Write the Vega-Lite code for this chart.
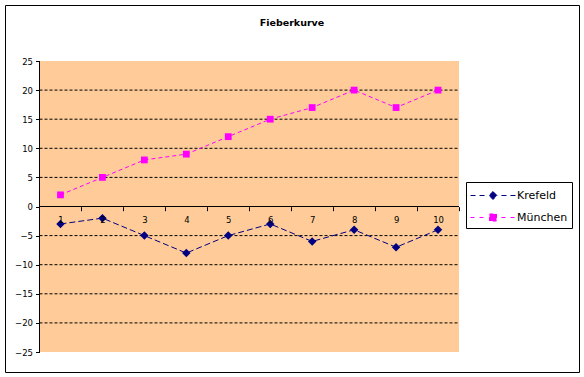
{
  "$schema": "https://vega.github.io/schema/vega-lite/v6.json",
  "width": 574,
  "height": 367,
  "autosize": {"type": "none"},
  "padding": {"left": 5, "top": 5, "right": 5, "bottom": 5},
  "background": "white",
  "config": {
    "view": {"stroke": "black", "strokeWidth": 1, "fill": "white"},
    "font": "DejaVu Sans"
  },
  "title": {
    "text": "Fieberkurve",
    "anchor": "middle",
    "frame": "group",
    "offset": -27,
    "baseline": "middle",
    "font": "DejaVu Sans",
    "fontSize": 9.5,
    "fontWeight": "bold",
    "color": "black"
  },
  "datasets": {
    "temps": [
      {"tag": 1, "stadt": "Krefeld", "wert": -3},
      {"tag": 2, "stadt": "Krefeld", "wert": -2},
      {"tag": 3, "stadt": "Krefeld", "wert": -5},
      {"tag": 4, "stadt": "Krefeld", "wert": -8},
      {"tag": 5, "stadt": "Krefeld", "wert": -5},
      {"tag": 6, "stadt": "Krefeld", "wert": -3},
      {"tag": 7, "stadt": "Krefeld", "wert": -6},
      {"tag": 8, "stadt": "Krefeld", "wert": -4},
      {"tag": 9, "stadt": "Krefeld", "wert": -7},
      {"tag": 10, "stadt": "Krefeld", "wert": -4},
      {"tag": 1, "stadt": "München", "wert": 2},
      {"tag": 2, "stadt": "München", "wert": 5},
      {"tag": 3, "stadt": "München", "wert": 8},
      {"tag": 4, "stadt": "München", "wert": 9},
      {"tag": 5, "stadt": "München", "wert": 12},
      {"tag": 6, "stadt": "München", "wert": 15},
      {"tag": 7, "stadt": "München", "wert": 17},
      {"tag": 8, "stadt": "München", "wert": 20},
      {"tag": 9, "stadt": "München", "wert": 17},
      {"tag": 10, "stadt": "München", "wert": 20}
    ],
    "gitter": [
      {"v": -20}, {"v": -15}, {"v": -10}, {"v": -5},
      {"v": 5}, {"v": 10}, {"v": 15}, {"v": 20}
    ],
    "nulllinie": [{"v": 0}],
    "yachse": [{"b": 0.5, "lo": -25, "hi": 25}],
    "eins": [{"x0": 0.5, "x1": 10.5, "lo": -25, "hi": 25}]
  },
  "layer": [
    {
      "data": {"name": "eins"},
      "mark": {"type": "rect", "fill": "#FFCC99", "stroke": null},
      "encoding": {
        "x": {
          "field": "x0", "type": "quantitative",
          "scale": {"domain": [-0.3224, 13.3605], "nice": false, "zero": false},
          "axis": {
            "orient": "bottom", "offset": -165.3,
            "values": [0.5, 1.5, 2.5, 3.5, 4.5, 5.5, 6.5, 7.5, 8.5, 9.5, 10.5],
            "tickCount": 20,
            "labelExpr": "datum.value < 10 ? format(datum.value + 0.5, 'd') : ''",
            "labelOffset": 21,
            "ticks": true, "tickSize": 4, "tickColor": "black", "tickWidth": 1,
            "domain": false, "grid": false, "title": null,
            "labelPadding": 5, "labelFlush": false, "labelOverlap": false,
            "labelFont": "DejaVu Sans", "labelFontSize": 8.5, "labelColor": "black",
            "zindex": 1
          }
        },
        "x2": {"field": "x1"},
        "y": {
          "field": "lo", "type": "quantitative",
          "scale": {"domain": [-28.436, 34.622], "nice": false, "zero": false},
          "axis": {
            "orient": "left", "offset": -34.5,
            "values": [-25, -20, -15, -10, -5, 0, 5, 10, 15, 20, 25],
            "tickCount": 20,
            "ticks": true, "tickSize": 4, "tickColor": "black", "tickWidth": 1,
            "domain": false, "grid": false, "title": null,
            "labelPadding": 3, "labelFlush": false, "labelOverlap": false,
            "labelFont": "DejaVu Sans", "labelFontSize": 8.5, "labelColor": "black",
            "zindex": 1
          }
        },
        "y2": {"field": "hi"}
      }
    },
    {
      "data": {"name": "gitter"},
      "mark": {"type": "rule", "color": "black", "strokeWidth": 1, "strokeDash": [3, 2]},
      "encoding": {
        "y": {"field": "v", "type": "quantitative"},
        "x": {"datum": 0.5, "type": "quantitative"},
        "x2": {"datum": 10.5}
      }
    },
    {
      "data": {"name": "nulllinie"},
      "mark": {"type": "rule", "color": "black", "strokeWidth": 1},
      "encoding": {
        "y": {"field": "v", "type": "quantitative"},
        "x": {"datum": 0.5, "type": "quantitative"},
        "x2": {"datum": 10.5}
      }
    },
    {
      "data": {"name": "yachse"},
      "mark": {"type": "rule", "color": "black", "strokeWidth": 1},
      "encoding": {
        "x": {"field": "b", "type": "quantitative"},
        "y": {"field": "lo", "type": "quantitative"},
        "y2": {"field": "hi"}
      }
    },
    {
      "data": {"name": "temps"},
      "mark": {"type": "line", "strokeWidth": 1},
      "encoding": {
        "x": {"field": "tag", "type": "quantitative"},
        "y": {"field": "wert", "type": "quantitative"},
        "color": {
          "field": "stadt", "type": "nominal",
          "scale": {"domain": ["Krefeld", "München"], "range": ["#000080", "#FF00FF"]},
          "legend": {
            "title": null,
            "orient": "none",
            "legendX": 461,
            "legendY": 177,
            "padding": 4,
            "strokeColor": "black",
            "fillColor": "white",
            "symbolSize": 324,
            "symbolStrokeWidth": 1,
            "labelOffset": 28,
            "rowPadding": 6,
            "labelFont": "DejaVu Sans",
            "labelFontSize": 11,
            "labelColor": "black",
            "encode": {
              "symbols": {
                "update": {
                  "shape": {"signal": "datum.value === 'Krefeld' ? 'M-1,0L-0.44,0M0,0L0.56,0M2.44,0L3,0M3.44,0L4,0M1.5,-0.44L1.94,0L1.5,0.44L1.06,0Z' : 'M-1,0L-0.44,0M0,0L0.56,0M2.44,0L3,0M3.44,0L4,0M1.11,-0.39L1.89,-0.39L1.89,0.39L1.11,0.39Z'"},
                  "fill": {"signal": "datum.value === 'Krefeld' ? '#000080' : '#FF00FF'"},
                  "stroke": {"signal": "datum.value === 'Krefeld' ? '#000080' : '#FF00FF'"},
                  "strokeWidth": {"value": 1},
                  "strokeOpacity": {"value": 1},
                  "strokeDash": {"value": [1, 0]},
                  "fillOpacity": {"value": 1},
                  "opacity": {"value": 1},
                  "size": {"value": 324}
                }
              }
            }
          }
        },
        "strokeDash": {
          "field": "stadt", "type": "nominal",
          "scale": {"domain": ["Krefeld", "München"], "range": [[6, 3], [4, 3]]},
          "legend": null
        }
      }
    },
    {
      "data": {"name": "temps"},
      "transform": [{"filter": "datum.stadt === 'Krefeld'"}],
      "mark": {"type": "point", "filled": true, "opacity": 1, "shape": "diamond", "size": 72},
      "encoding": {
        "x": {"field": "tag", "type": "quantitative"},
        "y": {"field": "wert", "type": "quantitative"},
        "color": {"field": "stadt", "type": "nominal"}
      }
    },
    {
      "data": {"name": "temps"},
      "transform": [{"filter": "datum.stadt === 'München'"}],
      "mark": {"type": "point", "filled": true, "opacity": 1, "shape": "square", "size": 46},
      "encoding": {
        "x": {"field": "tag", "type": "quantitative"},
        "y": {"field": "wert", "type": "quantitative"},
        "color": {"field": "stadt", "type": "nominal"}
      }
    }
  ]
}
